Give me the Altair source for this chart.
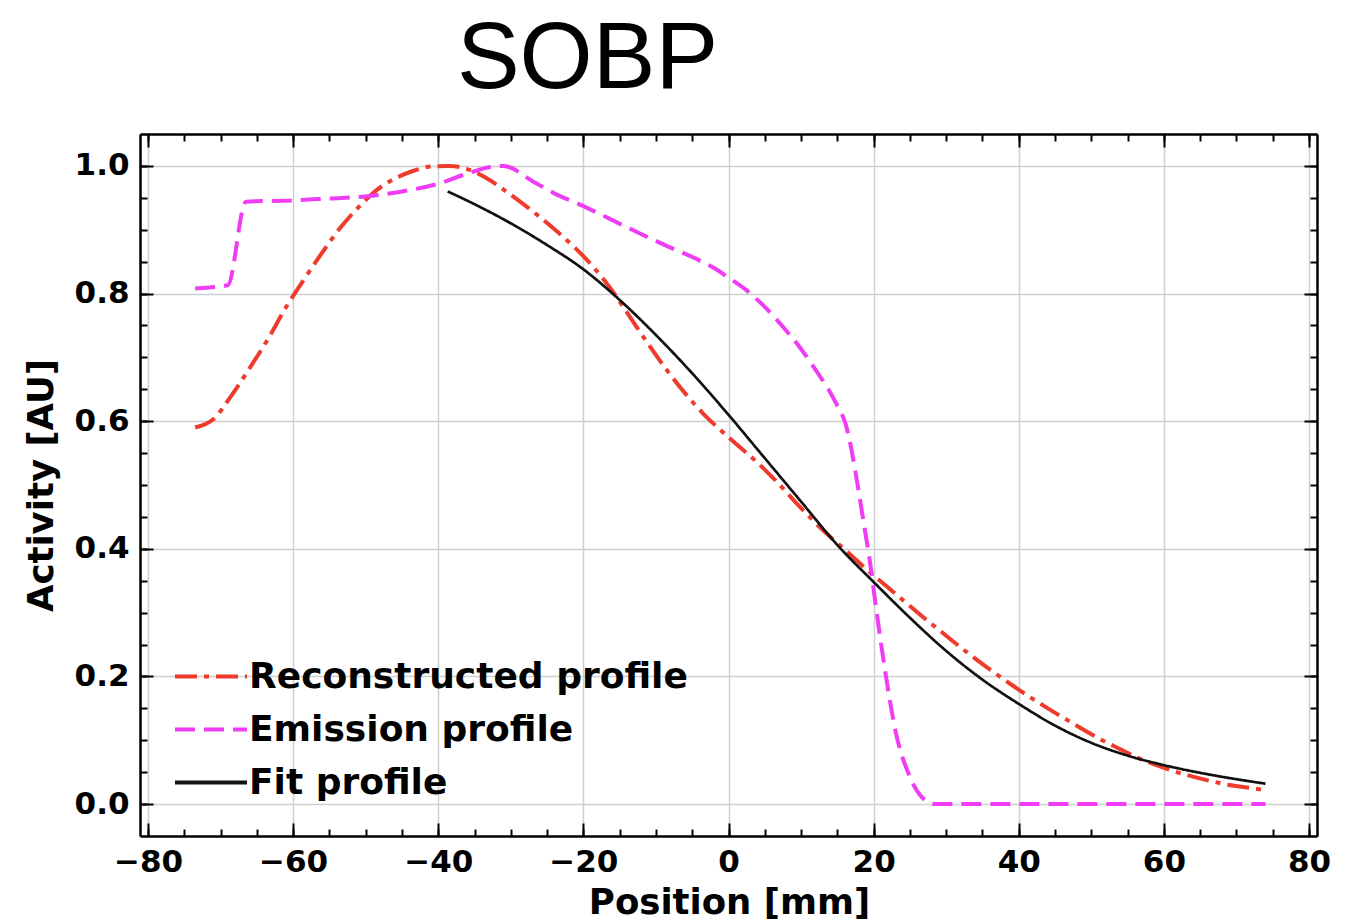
import altair as alt
import pandas as pd

# ---------------- data ----------------
series_names = ["Reconstructed profile", "Emission profile", "Fit profile"]
series_colors = ["#ef3b2c", "#f03cf5", "#111111"]
series_dashes = [[22, 7, 5, 7], [20, 9], [1, 0]]

rec_x = [-73.5, -71, -68.5, -66, -63.5, -61, -58.5, -56, -53.5, -51, -48.5, -46,
         -43.5, -41, -38.5, -36, -33.5, -31, -28.5, -26, -23.5, -21, -18.5, -16,
         -13.5, -11, -8.5, -6, -3.5, -1, 1.5, 4, 6.5, 9, 11.5, 14, 16.5, 19, 21.5,
         24, 26.5, 29, 31.5, 34, 36.5, 39, 41.5, 44, 46.5, 49, 51.5, 54, 56.5, 59,
         61.5, 64, 66.5, 69, 71.5, 74]
rec_y = [0.590, 0.603, 0.640, 0.683, 0.728, 0.778, 0.822, 0.864, 0.903, 0.935,
         0.962, 0.980, 0.992, 0.999, 1.000, 0.995, 0.982, 0.963, 0.942, 0.920,
         0.896, 0.870, 0.840, 0.804, 0.762, 0.720, 0.680, 0.644, 0.612, 0.585,
         0.560, 0.535, 0.507, 0.476, 0.446, 0.419, 0.394, 0.368, 0.344, 0.320,
         0.296, 0.273, 0.250, 0.228, 0.207, 0.187, 0.168, 0.150, 0.133, 0.116,
         0.100, 0.086, 0.072, 0.061, 0.051, 0.043, 0.036, 0.030, 0.026, 0.022]

emi_x = [-73.5, -69, -66.5, -60, -55, -50, -45, -40, -36, -33, -31, -27, -24, -20,
         -16, -12, -8, -4, -2, 0, 2.5, 5, 7.5, 10, 12.5, 14.5, 16.5, 17.5, 18.5,
         19.6, 20.2, 21.5, 23.1, 24.8, 26.4, 28.5, 74]
emi_y = [0.808, 0.813, 0.944, 0.946, 0.949, 0.952, 0.960, 0.972, 0.988, 0.998,
         1.000, 0.976, 0.957, 0.937, 0.915, 0.893, 0.872, 0.852, 0.840, 0.825,
         0.805, 0.779, 0.748, 0.713, 0.672, 0.635, 0.580, 0.520, 0.450, 0.371,
         0.319, 0.215, 0.110, 0.048, 0.014, 0.0, 0.0]

fit_x = [-38.7, -35, -30, -25, -20, -15, -10, -5, 0, 5, 10, 15, 20, 25, 30, 35,
         40, 45, 50, 55, 60, 65, 70, 74]
fit_y = [0.960, 0.940, 0.910, 0.876, 0.838, 0.790, 0.735, 0.675, 0.610, 0.542,
         0.474, 0.406, 0.348, 0.292, 0.240, 0.195, 0.157, 0.123, 0.096, 0.076,
         0.061, 0.049, 0.039, 0.032]

x_major = [-80, -60, -40, -20, 0, 20, 40, 60, 80]
x_minor = list(range(-80, 81, 5))
y_major = [0.0, 0.2, 0.4, 0.6, 0.8, 1.0]
y_minor = [round(i * 0.05, 2) for i in range(0, 21)]

# ---------------- table ----------------
frames = []
for name, xs_, ys_ in [(series_names[0], rec_x, rec_y),
                       (series_names[1], emi_x, emi_y),
                       (series_names[2], fit_x, fit_y)]:
    frames.append(pd.DataFrame({"x": xs_, "y": ys_, "series": name}))
df = pd.concat(frames, ignore_index=True)

W, H = 1177, 702
FONT = "DejaVu Sans"
xscale = alt.Scale(domain=[-81.1, 81.1], nice=False, zero=False)
yscale = alt.Scale(domain=[-0.05, 1.05], nice=False, zero=False)

legend = alt.Legend(
    title=None, orient="none", legendX=33, legendY=517,
    clipHeight=51, rowPadding=2, padding=0,
    symbolType="stroke", symbolSize=5184, symbolStrokeWidth=3.8,
    labelFont=FONT, labelFontSize=36, labelFontWeight="bold",
    labelColor="black", labelOffset=0, labelLimit=800,
)

main = alt.Chart(df).mark_line(interpolate="monotone").encode(
    x=alt.X("x:Q", scale=xscale, axis=alt.Axis(
        orient="bottom", values=x_major, format="d", grid=True,
        gridColor="#cfcfcf", gridWidth=1.5, ticks=False, tickSize=0,
        domain=False, labelFont=FONT, labelFontSize=31,
        labelFontWeight="bold", labelColor="black", labelPadding=11,
        labelFlush=False, labelOverlap=False,
        title="Position [mm]", titleFont=FONT, titleFontSize=35.5,
        titleFontWeight="bold", titleColor="black", titleX=589, titleY=77,
        titleBaseline="alphabetic", titleAlign="center")),
    y=alt.Y("y:Q", scale=yscale, axis=alt.Axis(
        orient="left", values=y_major, format=".1f", grid=True,
        gridColor="#cfcfcf", gridWidth=1.5, ticks=False, tickSize=0,
        domain=False, labelFont=FONT, labelFontSize=31,
        labelFontWeight="bold", labelColor="black", labelPadding=11,
        labelFlush=False, labelOverlap=False,
        title="Activity [AU]", titleFont=FONT, titleFontSize=35.5,
        titleFontWeight="bold", titleColor="black", titleX=-99, titleY=351,
        titleAngle=270, titleBaseline="middle", titleAlign="center")),
    color=alt.Color("series:N", scale=alt.Scale(domain=series_names, range=series_colors),
                    legend=legend),
    strokeDash=alt.StrokeDash("series:N", scale=alt.Scale(domain=series_names, range=series_dashes),
                              legend=legend),
    strokeWidth=alt.condition(alt.datum.series == "Fit profile", alt.value(2.7), alt.value(4)),
)


def tick_layer(x_orient, y_orient, xvals, yvals, size, frame_line):
    xa = alt.Axis(orient=x_orient, values=xvals, offset=-H, tickSize=size,
                  tickWidth=2, tickColor="black", labels=False, domain=frame_line,
                  domainColor="black", domainWidth=2.5,
                  grid=False, ticks=True, zindex=2)
    ya = alt.Axis(orient=y_orient, values=yvals, offset=-W, tickSize=size,
                  tickWidth=2, tickColor="black", labels=False, domain=frame_line,
                  domainColor="black", domainWidth=2.5,
                  grid=False, ticks=True, zindex=2)
    return alt.Chart(df).mark_point(opacity=0).encode(
        x=alt.X("x:Q", scale=xscale, axis=xa, title=None),
        y=alt.Y("y:Q", scale=yscale, axis=ya, title=None),
    )


layers = [
    main,
    tick_layer("top", "right", x_major, y_major, 13, True),
    tick_layer("top", "right", x_minor, y_minor, 7, False),
    tick_layer("bottom", "left", x_major, y_major, 13, True),
    tick_layer("bottom", "left", x_minor, y_minor, 7, False),
]

chart = alt.layer(*layers).resolve_axis(x="independent", y="independent").properties(
    width=W, height=H,
    autosize=alt.AutoSizeParams(type="none"),
    padding={"left": 132, "top": 126, "right": 33, "bottom": 92},
    title=alt.TitleParams(text="SOBP", font="Liberation Sans", fontSize=94,
                          fontWeight="normal", anchor="middle", frame="group",
                          baseline="alphabetic", offset=-49, dx=-141, color="black"),
).configure_view(stroke="black", strokeWidth=2.5).configure(background="white")

chart.save("out.html", embed_options={"renderer": "svg", "actions": False})
